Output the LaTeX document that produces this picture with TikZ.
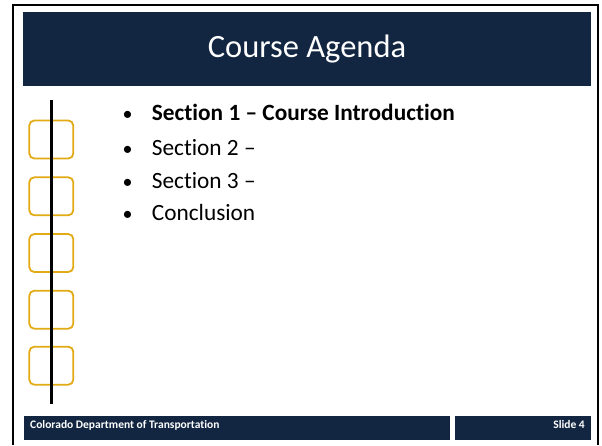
\documentclass[tikz,border=0pt]{standalone}
\usepackage{fontspec}
\setmainfont{Carlito}[Ligatures=NoCommon]
\definecolor{navy}{RGB}{18,38,66}
\definecolor{gold}{RGB}{226,170,20}
\tikzset{
  band/.style={fill=navy, draw=none, inner sep=0pt, anchor=north west},
  secbox/.style={draw=gold, line width=1.8pt, rounded corners=5pt, minimum width=44pt, minimum height=38pt, inner sep=0pt},
  item/.style={anchor=base west, inner sep=0pt, font=\fontsize{23.3}{26}\selectfont},
  bul/.style={anchor=base, inner sep=0pt, font=\fontsize{20}{24}\selectfont},
  foot/.style={inner sep=0pt, text=white, font=\fontsize{11.5}{13}\selectfont\bfseries}
}
\begin{document}
\begin{tikzpicture}[x=1pt,y=-1pt]
\useasboundingbox[fill=white] (0,0) rectangle (602,445);
% slide frame
\draw[line width=2pt] (13,445) -- (13,5) -- (597.5,5) -- (597.5,445);
% header
\node[band, minimum width=568pt, minimum height=74pt] (header) at (23,12) {};
\node[anchor=base, inner sep=0pt, text=white, font=\fontsize{32.5}{36}\selectfont] (title) at (307,57.7) {Course Agenda};
% section boxes
\node[secbox] (b1) at (51.3,139.5) {};
\node[secbox] (b2) at (51.3,196.3) {};
\node[secbox] (b3) at (51.3,253) {};
\node[secbox] (b4) at (51.3,309.7) {};
\node[secbox] (b5) at (51.3,365.7) {};
% timeline
\coordinate (ltop) at (51.3,100);
\coordinate (lbot) at (51.3,404);
\draw[line width=3pt] (ltop) -- (lbot);
% bullets
\node[bul] (u1) at (127.7,120) {•};
\node[bul] (u2) at (127.7,155) {•};
\node[bul] (u3) at (127.7,188.3) {•};
\node[bul] (u4) at (127.7,220) {•};
\node[item, font=\fontsize{23.3}{26}\selectfont\bfseries] (t1) at (151.7,120) {Section 1 – Course Introduction};
\node[item] (t2) at (151.7,155) {Section 2 –};
\node[item] (t3) at (151.7,188.3) {Section 3 –};
\node[item] (t4) at (151.7,220) {Conclusion};
% footer
\node[band, minimum width=426pt, minimum height=23.3pt] (footl) at (24,416) {};
\node[band, minimum width=136pt, minimum height=23.3pt] (footr) at (455,416) {};
\node[foot, anchor=base west] (org) at (30,428.3) {Colorado Department of Transportation};
\node[foot, anchor=base east] (slide) at (585,428.3) {Slide 4};
\end{tikzpicture}
\end{document}
